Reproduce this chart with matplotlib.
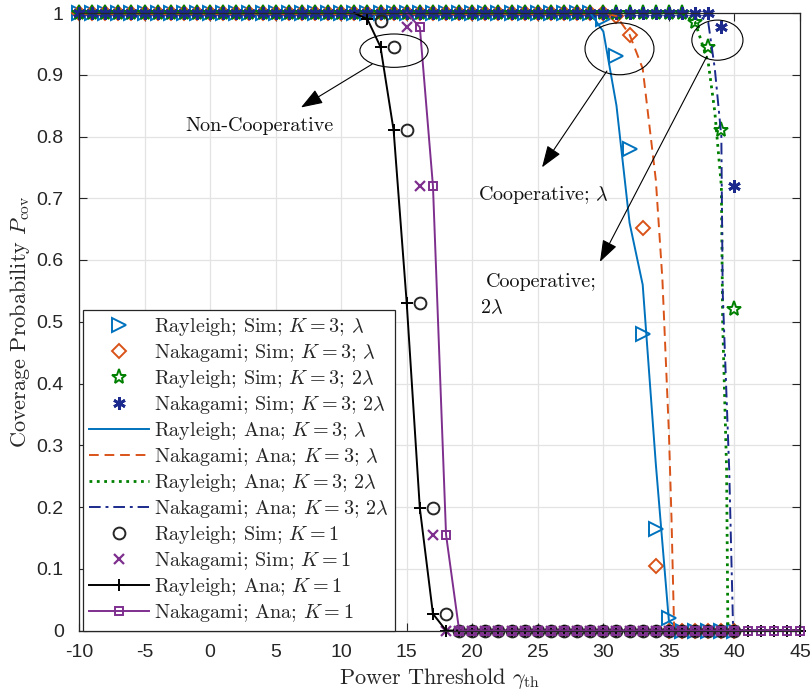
import numpy as np
import matplotlib
matplotlib.use("Agg")
import matplotlib.pyplot as plt
from matplotlib.patches import Ellipse

plt.rcParams['mathtext.fontset'] = 'cm'

# ---------------- data ----------------
x_sim = list(range(-10, 41))

# K = 3 simulations (x = -10 .. 40)
ray_sim_k3_l = [1.0]*40 + [0.99, 0.93, 0.78, 0.48, 0.165, 0.02, 0, 0, 0, 0, 0]
nak_sim_k3_l = [1.0]*41 + [0.995, 0.965, 0.652, 0.105, 0, 0, 0, 0, 0, 0]
ray_sim_k3_2l = [1.0]*47 + [0.985, 0.945, 0.81, 0.52]
nak_sim_k3_2l = [1.0]*49 + [0.977, 0.72]

# K = 3 analytical
x_ray_ana_k3_l = [-10, 29, 30, 31, 32, 33, 34, 35, 36, 45]
ray_ana_k3_l = [1.0, 1.0, 0.97, 0.85, 0.66, 0.56, 0.27, 0.015, 0, 0]

x_nak_ana_k3_l = [-10, 30, 31, 32, 33, 34, 34.5, 35, 35.2, 35.4, 45]
nak_ana_k3_l = [1.0, 1.0, 0.995, 0.965, 0.91, 0.73, 0.57, 0.32, 0.18, 0, 0]

x_ray_ana_k3_2l = [-10, 36, 37, 38, 38.5, 39, 39.1, 39.4, 39.5, 45]
ray_ana_k3_2l = [1.0, 1.0, 0.985, 0.92, 0.84, 0.72, 0.5, 0.26, 0, 0]

x_nak_ana_k3_2l = [-10, 37, 38, 38.5, 39, 39.1, 39.6, 39.9, 45]
nak_ana_k3_2l = [1.0, 1.0, 0.985, 0.91, 0.8, 0.55, 0.26, 0, 0]

# K = 1 simulations
x_ray_sim_k1 = list(range(13, 41))
ray_sim_k1 = [0.987, 0.945, 0.81, 0.53, 0.198, 0.027] + [0]*22
x_nak_sim_k1 = list(range(15, 41))
nak_sim_k1 = [0.977, 0.72, 0.155] + [0]*23

# K = 1 analytical
x_ray_ana_k1 = list(range(11, 46))
ray_ana_k1 = [1.0, 0.99, 0.945, 0.81, 0.53, 0.198, 0.027] + [0]*28
x_nak_ana_k1 = list(range(15, 46))
nak_ana_k1 = [1.0, 0.977, 0.72, 0.155] + [0]*27

xticks = list(range(-10, 46, 5))
yticks = [round(0.1*i, 1) for i in range(11)]

# ---------------- style ----------------
c_blue = '#0072BD'
c_orange = '#D95319'
c_green = '#008000'
c_navy = '#1b2a8c'
c_purple = '#7E2F8E'
c_text = '#262626'

fig = plt.figure(figsize=(8.1, 6.98), dpi=100)
ax = fig.add_axes([79/810, 1-630.5/698, (800-79)/810, (630.5-13)/698])

lw = 1.4
kw = dict(clip_on=False)
ax.plot(x_sim, ray_sim_k3_l, ls='none', marker='>', ms=10, mfc='none', mec=c_blue, mew=1.4,
        label=r'Rayleigh; Sim; $K=3$; $\lambda$', **kw)
ax.plot(x_sim, nak_sim_k3_l, ls='none', marker='D', ms=7.5, mfc='none', mec=c_orange, mew=1.4,
        label=r'Nakagami; Sim; $K=3$; $\lambda$', **kw)
ax.plot(x_sim, ray_sim_k3_2l, ls='none', marker='*', ms=11, mfc='none', mec=c_green, mew=1.4,
        label=r'Rayleigh; Sim; $K=3$; $2\lambda$', **kw)
ax.plot(x_sim, nak_sim_k3_2l, ls='none', marker=(6, 2, 0), ms=9, mfc='none', mec=c_navy, mew=2.0,
        label=r'Nakagami; Sim; $K=3$; $2\lambda$', **kw)
ax.plot(x_ray_ana_k3_l, ray_ana_k3_l, '-', color=c_blue, lw=lw,
        label=r'Rayleigh; Ana; $K=3$; $\lambda$')
ax.plot(x_nak_ana_k3_l, nak_ana_k3_l, '--', color=c_orange, lw=lw, dashes=(5, 3),
        label=r'Nakagami; Ana; $K=3$; $\lambda$')
ax.plot(x_ray_ana_k3_2l, ray_ana_k3_2l, ':', color=c_green, lw=2.0,
        label=r'Rayleigh; Ana; $K=3$; $2\lambda$')
ax.plot(x_nak_ana_k3_2l, nak_ana_k3_2l, '-.', color=c_navy, lw=lw, dashes=(6, 2.5, 1.5, 2.5),
        label=r'Nakagami; Ana; $K=3$; $2\lambda$')
ax.plot(x_ray_sim_k1, ray_sim_k1, ls='none', marker='o', ms=8.5, mfc='none', mec=c_text, mew=1.4,
        label=r'Rayleigh; Sim; $K=1$', **kw)
ax.plot(x_nak_sim_k1, nak_sim_k1, ls='none', marker='x', ms=6.5, mec=c_purple, mew=1.6,
        label=r'Nakagami; Sim; $K=1$', **kw)
ax.plot(x_ray_ana_k1, ray_ana_k1, '-', color='black', lw=lw, marker='+', ms=9, mew=1.4,
        markevery=slice(1, None), label=r'Rayleigh; Ana; $K=1$', **kw)
ax.plot(x_nak_ana_k1, nak_ana_k1, '-', color=c_purple, lw=lw, marker='s', ms=5.5, mfc='none',
        mew=1.4, markevery=slice(1, None), label=r'Nakagami; Ana; $K=1$', **kw)

ax.set_xlim(-10, 45)
ax.set_ylim(0, 1)
ax.set_xticks(xticks)
ax.set_yticks(yticks)
ax.set_xticklabels([str(t) for t in xticks])
ax.set_yticklabels(['0'] + [f'{t:.1f}' for t in yticks[1:-1]] + ['1'])
ax.grid(True, color='#e3e3e3', lw=0.9)
ax.set_axisbelow(True)
ax.tick_params(direction='in', top=True, right=True, length=6, width=0.8, color=c_text,
               labelsize=14, labelcolor=c_text)
ax.tick_params(axis='x', pad=10)
ax.tick_params(axis='y', pad=11)
for lab in ax.get_xticklabels() + ax.get_yticklabels():
    lab.set_fontfamily('Liberation Sans')
for sp in ax.spines.values():
    sp.set_color(c_text)
    sp.set_linewidth(0.9)

ax.set_xlabel(r'Power Threshold $\gamma_{\rm th}$', fontfamily='cmr10', fontsize=16, color=c_text,
              labelpad=3)
ax.set_ylabel(r'Coverage Probability $P_{\rm cov}$', fontfamily='cmr10', fontsize=16, color=c_text,
              labelpad=3)

leg = ax.legend(loc='lower left', bbox_to_anchor=(4/721, 0.0), prop={'family': 'cmr10', 'size': 14.5},
                frameon=True, fancybox=False, edgecolor=c_text, framealpha=1,
                handlelength=3.0, handletextpad=0.25, labelspacing=0.2, borderpad=0.3,
                borderaxespad=0.0)
leg.get_frame().set_linewidth(0.9)
for t in leg.get_texts():
    t.set_color(c_text)

# ---------------- annotations ----------------
for (cx, cy, w, h) in [(14.03, 0.939, 5.2, 0.054), (31.23, 0.942, 5.26, 0.084), (38.7, 0.956, 3.9, 0.065)]:
    ax.add_patch(Ellipse((cx, cy), w, h, fill=False, ec='black', lw=0.8, clip_on=False, zorder=20))

arrow_kw = dict(arrowstyle='-|>,head_length=0.9,head_width=0.32', color='black', lw=0.8,
                mutation_scale=15, shrinkA=0, shrinkB=0)
ax.annotate('', xy=(6.93, 0.847), xytext=(12.35, 0.917), arrowprops=arrow_kw, zorder=20)
ax.annotate('', xy=(25.32, 0.75), xytext=(30.27, 0.906), arrowprops=arrow_kw, zorder=20)
ax.annotate('', xy=(29.74, 0.597), xytext=(37.9, 0.93), arrowprops=arrow_kw, zorder=20)

fs_ann = 14.5
ax.text(3.8, 0.817, 'Non-Cooperative', fontfamily='cmr10', fontsize=fs_ann, ha='center', va='center',
        color='#111111', zorder=20)
ax.text(20.43, 0.706, r'Cooperative; $\lambda$', fontfamily='cmr10', fontsize=fs_ann, ha='left',
        va='center', color='#111111', zorder=20)
ax.text(21.0, 0.564, 'Cooperative;', fontfamily='cmr10', fontsize=fs_ann, ha='left', va='center',
        color='#111111', zorder=20)
ax.text(20.6, 0.522, r'$2\lambda$', fontsize=fs_ann, ha='left', va='center', color='#111111', zorder=20)

fig.savefig('out.png', dpi=100)
